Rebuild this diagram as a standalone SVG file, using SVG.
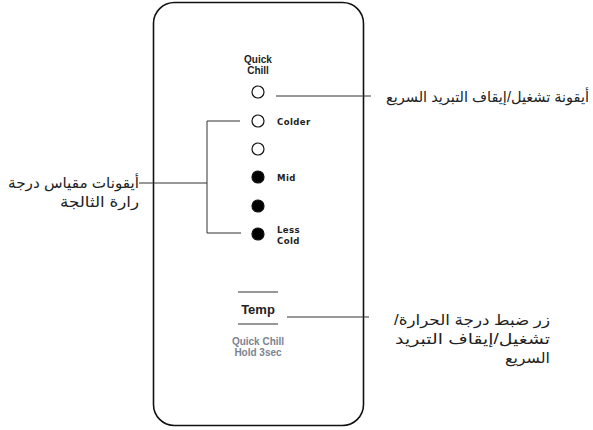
<svg xmlns="http://www.w3.org/2000/svg" width="593" height="430" viewBox="0 0 593 430">
<style>
.panel{fill:#fff;stroke:#111;stroke-width:1.6}
.led{stroke:#111;stroke-width:1.2}
.off{fill:#fff}
.on{fill:#000}
.lbl{font-family:"DejaVu Sans Condensed","DejaVu Sans",sans-serif;font-stretch:condensed;font-weight:bold;font-size:9.5px;fill:#222;letter-spacing:0.4px}
.hd{font-family:"Liberation Sans",Arial,sans-serif;font-weight:bold;font-size:10px;fill:#222;text-anchor:middle}
.temp{font-family:"Liberation Sans",Arial,sans-serif;font-weight:bold;font-size:13px;fill:#222;text-anchor:middle}
.sub{font-family:"Liberation Sans",Arial,sans-serif;font-weight:bold;font-size:10px;fill:#7a8391;text-anchor:middle}
.ar{font-family:"Liberation Sans","DejaVu Sans",sans-serif;font-size:14.5px;fill:#222}
.ln{stroke:#333;stroke-width:1;fill:none}
</style>
<g id="panel">
<rect class="panel" x="153.5" y="2.5" width="210" height="423" rx="21" ry="21"/>
</g>
<g id="quick-chill-icon">
<text class="hd" x="258" y="63">Quick</text>
<text class="hd" x="258" y="74">Chill</text>
<circle class="led off" cx="258" cy="92" r="6"/>
</g>
<g id="led-colder">
<circle class="led off" cx="258" cy="121" r="6"/>
<text class="lbl" x="277" y="124.5">Colder</text>
</g>
<g id="led-3"><circle class="led off" cx="258" cy="149" r="6"/></g>
<g id="led-mid">
<circle class="led on" cx="258" cy="177" r="6"/>
<text class="lbl" x="277" y="180.5">Mid</text>
</g>
<g id="led-5"><circle class="led on" cx="258" cy="206" r="6"/></g>
<g id="led-less-cold">
<circle class="led on" cx="258" cy="234" r="6"/>
<text class="lbl" x="277" y="232.5">Less</text>
<text class="lbl" x="277" y="243.5">Cold</text>
</g>
<g id="temp-button">
<line class="ln" x1="238" y1="292" x2="278" y2="292" stroke-width="1.3"/>
<text class="temp" x="258" y="314">Temp</text>
<line class="ln" x1="238" y1="324" x2="278" y2="324" stroke-width="1.3"/>
<text class="sub" x="258" y="345">Quick Chill</text>
<text class="sub" x="258" y="356">Hold 3sec</text>
</g>
<g id="label-quick-chill">
<text class="ar" x="589" y="102" direction="rtl" text-anchor="start" textLength="203" lengthAdjust="spacingAndGlyphs">أيقونة تشغيل/إيقاف التبريد السريع</text>
</g>
<g id="label-temp-icons">
<text class="ar" x="139" y="188" direction="rtl" text-anchor="start" textLength="131" lengthAdjust="spacingAndGlyphs">أيقونات مقياس درجة</text>
<text class="ar" x="139" y="207" direction="rtl" text-anchor="start" textLength="79" lengthAdjust="spacingAndGlyphs">رارة الثالجة</text>
</g>
<g id="label-temp-button">
<text class="ar" x="550" y="325" direction="rtl" text-anchor="start" textLength="156" lengthAdjust="spacingAndGlyphs">زر ضبط درجة الحرارة/</text>
<text class="ar" x="550" y="344" direction="rtl" text-anchor="start" textLength="155" lengthAdjust="spacingAndGlyphs">تشغيل/إيقاف التبريد</text>
<text class="ar" x="550" y="363" direction="rtl" text-anchor="start" textLength="45" lengthAdjust="spacingAndGlyphs">السريع</text>
</g>
<g id="connectors">
<line class="ln" x1="276" y1="96" x2="371" y2="96"/>
<polyline class="ln" points="240,121 207,121 207,233 241,233"/>
<line class="ln" x1="139" y1="183" x2="207" y2="183"/>
<line class="ln" x1="287" y1="317" x2="369" y2="317"/>
</g>
</svg>
